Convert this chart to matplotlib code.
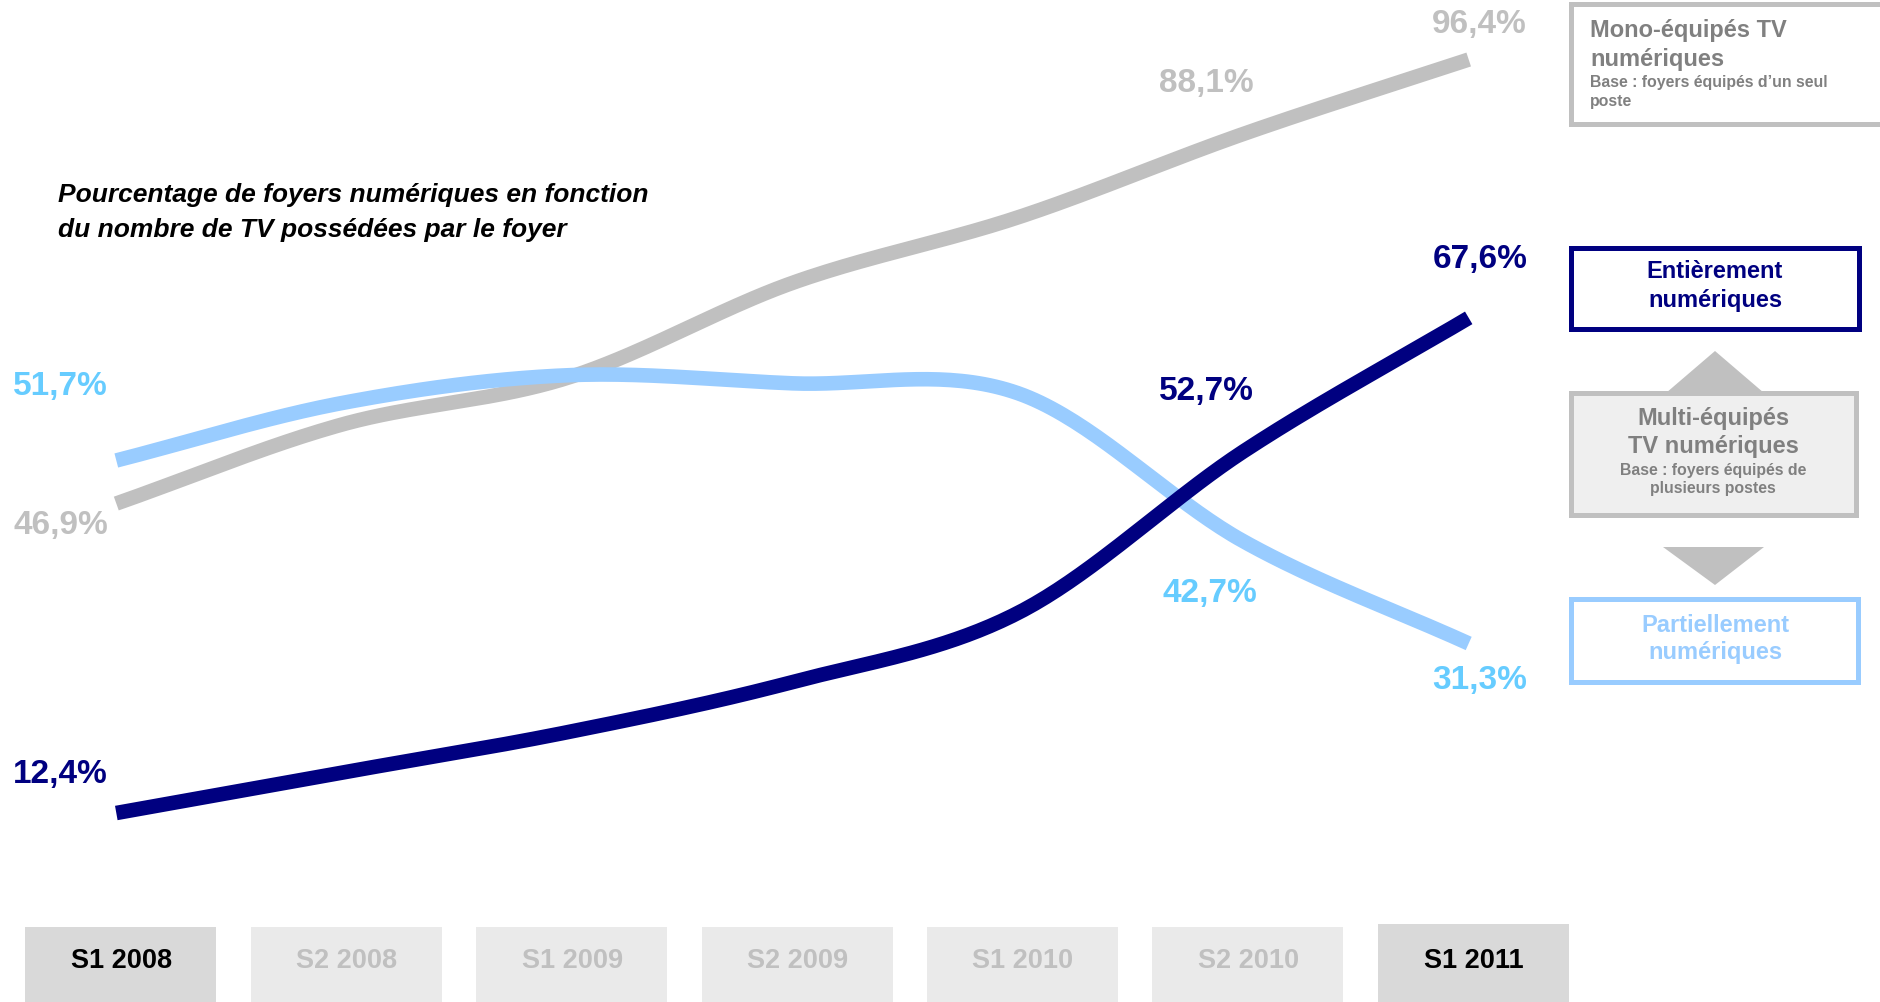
# =========================================================
# plot.py - foyers numériques selon le nombre de TV
# =========================================================

import numpy as np
import matplotlib
matplotlib.use("Agg")
import matplotlib.pyplot as plt
from matplotlib.patches import Rectangle, Polygon

# =========================================================
# DATA
# =========================================================
periods = ["S1 2008", "S2 2008", "S1 2009", "S2 2009", "S1 2010", "S2 2010", "S1 2011"]
highlighted = ["S1 2008", "S1 2011"]

mono = [46.9, 55.7, 60.9, 71.5, 78.8, 88.1, 96.4]
entier = [12.4, 16.9, 21.4, 27.0, 34.7, 52.7, 67.6]
partiel = [51.7, 58.1, 61.2, 60.3, 59.2, 42.7, 31.3]

title_lines = ["Pourcentage de foyers numériques en fonction",
               "du nombre de TV possédées par le foyer"]

# =========================================================
# CONFIG
# =========================================================
W, H = 1880, 1002
DPI = 100
FONT = "Liberation Sans"

GREY = "#C0C0C0"
NAVY = "#000080"
LBLUE = "#99CCFF"
LBLUE_TXT = "#66CCFF"
LEG_GREY_TXT = "#808080"

plt.rcParams["font.family"] = [FONT, "DejaVu Sans"]


def smooth(y, n=40):
    # Catmull-Rom style smoothing, like office "smoothed line"
    y = np.asarray(y, dtype=float)
    x = np.arange(len(y), dtype=float)
    p = np.concatenate([[2 * y[0] - y[1]], y, [2 * y[-1] - y[-2]]])
    xs, ys = [], []
    for i in range(len(y) - 1):
        p0, p1, p2, p3 = p[i], p[i + 1], p[i + 2], p[i + 3]
        t = np.linspace(0, 1, n, endpoint=(i == len(y) - 2))
        yy = 0.5 * ((2 * p1) + (-p0 + p2) * t
                    + (2 * p0 - 5 * p1 + 4 * p2 - p3) * t ** 2
                    + (-p0 + 3 * p1 - 3 * p2 + p3) * t ** 3)
        xs.append(x[i] + t)
        ys.append(yy)
    return np.concatenate(xs), np.concatenate(ys)


fig = plt.figure(figsize=(W / DPI, H / DPI), dpi=DPI)

# overlay axes in pixel coordinates (for boxes / legend)
pax = fig.add_axes([0, 0, 1, 1])
pax.set_xlim(0, W)
pax.set_ylim(H, 0)
pax.axis("off")

# data axes: category 0 at px 116, step 225.4 ; value 12.4 at px 813, 8.97 px per %
ax = fig.add_axes([0, 0, 1, 1])
ax.patch.set_alpha(0)
step = 225.4
x0 = 116.3
ax.set_xlim(-x0 / step, (W - x0) / step)
ax.set_ylim(12.4 - (H - 813) / 8.97, 12.4 + 813 / 8.97)
ax.axis("off")

# =========================================================
# BOTTOM PERIOD BOXES
# =========================================================
for i, p in enumerate(periods):
    cx = x0 + i * step + 5
    hi = p in highlighted
    top = 924 if p == "S1 2011" else 927
    pax.add_patch(Rectangle((cx - 96, top), 191, H - top,
                            facecolor="#D9D9D9" if hi else "#EAEAEA", edgecolor="none"))
    pax.text(cx, 961, p, ha="center", va="center", fontsize=19.5, fontweight="bold",
             color="black" if hi else GREY)

# =========================================================
# LINES
# =========================================================
for vals, col in [(mono, GREY), (partiel, LBLUE), (entier, NAVY)]:
    xs, ys = smooth(vals)
    ax.plot(xs, ys, color=col, linewidth=10.5, solid_capstyle="butt")

# value labels
labels = [
    (0, mono[0], -103, -22, "left", GREY),
    (0, partiel[0], -103, 74, "left", LBLUE_TXT),
    (0, entier[0], -103, 39, "left", NAVY),
    (5, mono[5], -37, 50, "center", GREY),
    (5, entier[5], -37, 60, "center", NAVY),
    (5, partiel[5], -33, -52, "center", LBLUE_TXT),
    (6, mono[6], 11, 35, "center", GREY),
    (6, entier[6], 11, 58, "center", NAVY),
    (6, partiel[6], 11, -37, "center", LBLUE_TXT),
]
for i, v, dx, dy, ha, col in labels:
    ax.annotate(f"{v:.1f}%".replace(".", ","), xy=(i, v), xytext=(dx, dy),
                textcoords="offset pixels", ha=ha, va="center",
                fontsize=24, fontweight="bold", color=col)

# title
for k, line in enumerate(title_lines):
    pax.text(58, 195 + k * 35, line, ha="left", va="center", fontsize=19,
             fontweight="bold", fontstyle="italic", color="black")

# =========================================================
# LEGEND BOXES
# =========================================================
lw = 3.6
big, small = 17, 11.4
pax.add_patch(Rectangle((1571, 4), 330, 120, facecolor="white", edgecolor=GREY, linewidth=lw))
pax.text(1590, 30, "Mono-équipés TV", ha="left", va="center", fontsize=big,
         fontweight="bold", color=LEG_GREY_TXT)
pax.text(1590, 59, "numériques", ha="left", va="center", fontsize=big,
         fontweight="bold", color=LEG_GREY_TXT)
pax.text(1590, 82, "Base : foyers équipés d\u2019un seul", ha="left", va="center",
         fontsize=small, fontweight="bold", color=LEG_GREY_TXT)
pax.text(1590, 101, "poste", ha="left", va="center", fontsize=small,
         fontweight="bold", color=LEG_GREY_TXT)

pax.add_patch(Rectangle((1571, 248), 288, 81, facecolor="white", edgecolor=NAVY, linewidth=lw))
pax.text(1715, 272, "Entièrement", ha="center", va="center", fontsize=big,
         fontweight="bold", color=NAVY)
pax.text(1715, 301, "numériques", ha="center", va="center", fontsize=big,
         fontweight="bold", color=NAVY)

pax.add_patch(Polygon([(1666, 393), (1715, 351), (1764, 393)], closed=True,
                      facecolor=GREY, edgecolor="none"))
pax.add_patch(Rectangle((1571, 393), 285, 122, facecolor="#EFEFEF", edgecolor=GREY, linewidth=lw))
pax.text(1713, 418, "Multi-équipés", ha="center", va="center", fontsize=big,
         fontweight="bold", color=LEG_GREY_TXT)
pax.text(1713, 447, "TV numériques", ha="center", va="center", fontsize=big,
         fontweight="bold", color=LEG_GREY_TXT)
pax.text(1713, 470, "Base : foyers équipés de", ha="center", va="center", fontsize=small,
         fontweight="bold", color=LEG_GREY_TXT)
pax.text(1713, 489, "plusieurs postes", ha="center", va="center", fontsize=small,
         fontweight="bold", color=LEG_GREY_TXT)

pax.add_patch(Polygon([(1663, 547), (1764, 547), (1715, 585)], closed=True,
                      facecolor=GREY, edgecolor="none"))
pax.add_patch(Rectangle((1571, 599), 287, 83, facecolor="white", edgecolor=LBLUE, linewidth=lw))
pax.text(1715, 625, "Partiellement", ha="center", va="center", fontsize=big,
         fontweight="bold", color=LBLUE)
pax.text(1715, 653, "numériques", ha="center", va="center", fontsize=big,
         fontweight="bold", color=LBLUE)

fig.savefig("out.png", dpi=DPI)
